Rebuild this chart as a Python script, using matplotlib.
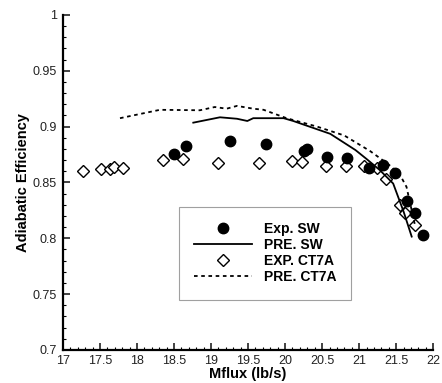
import numpy as np
import matplotlib.pyplot as plt
from matplotlib.ticker import MultipleLocator

plt.rcParams['font.family'] = ['Liberation Sans', 'DejaVu Sans']

# Exp. SW (filled circles)
exp_sw_x = [18.50, 18.66, 19.26, 19.74, 20.26, 20.29, 20.56, 20.84, 21.13, 21.32,
            21.48, 21.65, 21.75, 21.86]
exp_sw_y = [0.875, 0.883, 0.887, 0.8845, 0.878, 0.880, 0.873, 0.872, 0.863, 0.866,
            0.858, 0.833, 0.823, 0.803]

# PRE. SW (solid line)
pre_sw_x = [18.76, 19.12, 19.35, 19.49, 19.57, 19.98, 20.11, 20.61, 20.95, 21.10,
            21.28, 21.46, 21.60, 21.71]
pre_sw_y = [0.9035, 0.9083, 0.907, 0.905, 0.9075, 0.9075, 0.905, 0.8935, 0.879, 0.871,
            0.861, 0.849, 0.824, 0.8015]

# EXP. CT7A (open diamonds)
exp_ct_x = [17.27, 17.52, 17.64, 17.69, 17.81, 18.35, 18.62, 19.10, 19.65, 20.10,
            20.23, 20.55, 20.82, 21.06, 21.24, 21.36, 21.55, 21.62, 21.75]
exp_ct_y = [0.860, 0.862, 0.862, 0.864, 0.863, 0.870, 0.871, 0.867, 0.867, 0.869,
            0.868, 0.865, 0.865, 0.865, 0.863, 0.853, 0.830, 0.823, 0.812]

# PRE. CT7A (dashed line)
pre_ct_x = [17.77, 18.31, 18.85, 19.05, 19.21, 19.35, 19.57, 19.71, 20.02, 20.43,
            20.80, 21.15, 21.40, 21.55, 21.64, 21.76]
pre_ct_y = [0.9075, 0.915, 0.9146, 0.9175, 0.916, 0.9185, 0.916, 0.915, 0.9075, 0.900,
            0.892, 0.878, 0.866, 0.857, 0.846, 0.810]

x_ticks = [17, 17.5, 18, 18.5, 19, 19.5, 20, 20.5, 21, 21.5, 22]
x_tick_labels = ['17', '17.5', '18', '18.5', '19', '19.5', '20', '20.5', '21', '21.5', '22']
y_ticks = [0.7, 0.75, 0.8, 0.85, 0.9, 0.95, 1.0]
y_tick_labels = ['0.7', '0.75', '0.8', '0.85', '0.9', '0.95', '1']

fig = plt.figure(figsize=(4.42, 3.83), dpi=100)
ax = fig.add_axes([0.1425, 0.0862, 0.8375, 0.875])

ax.plot(exp_sw_x, exp_sw_y, 'o', color='black', markersize=7.5, label='Exp. SW', zorder=4)
ax.plot(pre_sw_x, pre_sw_y, '-', color='black', linewidth=1.3, label='PRE. SW', zorder=3)
ax.plot(exp_ct_x, exp_ct_y, 'D', markerfacecolor='white', markeredgecolor='black',
        markersize=6.5, markeredgewidth=1.0, label='EXP. CT7A', zorder=2)
ax.plot(pre_ct_x, pre_ct_y, color='black', linewidth=1.3, linestyle=(0, (2, 2)),
        label='PRE. CT7A', zorder=3)

ax.set_xlim(17, 22)
ax.set_ylim(0.7, 1.0)
ax.set_xticks(x_ticks)
ax.set_xticklabels(x_tick_labels)
ax.set_yticks(y_ticks)
ax.set_yticklabels(y_tick_labels)
ax.xaxis.set_minor_locator(MultipleLocator(0.1))
ax.yaxis.set_minor_locator(MultipleLocator(0.01))

ax.tick_params(which='major', direction='in', length=5, width=1.2, labelsize=9,
               colors='#222222')
ax.tick_params(axis='x', which='major', pad=3.5)
ax.tick_params(axis='y', which='major', pad=4.5)
ax.tick_params(which='minor', direction='in', length=2.5, width=0.8)
for side in ['top', 'right']:
    ax.spines[side].set_visible(False)
for side in ['left', 'bottom']:
    ax.spines[side].set_linewidth(1.6)

ax.set_xlabel('Mflux (lb/s)', fontsize=10.5, fontweight='bold', labelpad=0)
ax.set_ylabel('Adiabatic Efficiency', fontsize=10.5, fontweight='bold', labelpad=2)

leg = ax.legend(loc='center', bbox_to_anchor=(0.546, 0.289), fancybox=False,
                frameon=True, edgecolor='#888888', handlelength=4.2,
                labelspacing=0.15, borderpad=1.1, handletextpad=0.8,
                prop={'weight': 'bold', 'size': 10})
leg.get_frame().set_linewidth(0.8)

fig.savefig('out.png', dpi=100)
